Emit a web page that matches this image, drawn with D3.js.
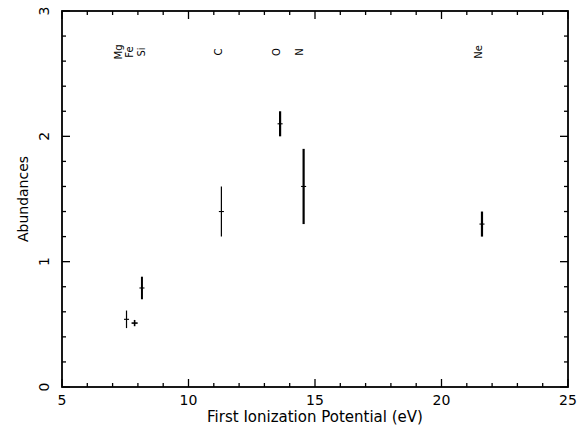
<!DOCTYPE html>
<html><head><meta charset="utf-8">
<script src="https://d3js.org/d3.v7.min.js"></script>
<style>body{margin:0;background:#fff}svg{display:block}text{font-family:"DejaVu Sans",Verdana,sans-serif;fill:#000}</style>
</head><body>
<script>
const elements = ["Mg","Fe","Si","C","O","N","Ne"];
const ionPotential = [7.55, 7.87, 8.16, 11.3, 13.62, 14.55, 21.6];
const abundance = [0.54, 0.51, 0.79, 1.40, 2.10, 1.60, 1.30];
const abundErr = [0.07, 0.025, 0.09, 0.20, 0.10, 0.30, 0.10];
const ipErr = [0.1, 0.12, 0.1, 0.1, 0.1, 0.1, 0.1];
const labelX = [7.25, 7.67, 8.13, 11.17, 13.48, 14.38, 21.47];
const xTicks = [5,10,15,20,25];
const yTicks = [0,1,2,3];
const thickBars = {Mg:1.2, Fe:1.6, Si:2, C:1.2, O:2.2, N:2.2, Ne:2.2};

const W=579,H=433, L=62,R=568,T=11,B=387;
const svg=d3.select("body").append("svg").attr("width",W).attr("height",H);
const x=d3.scaleLinear().domain([5,25]).range([L,R]);
const y=d3.scaleLinear().domain([0,3]).range([B,T]);

const g=svg.append("g");
const xMinor=d3.range(5,25.001,1), yMinor=d3.range(0,3.001,0.2);
const tk=g.append("g").attr("stroke","#000").attr("stroke-width",1.3);
xMinor.forEach(v=>{
  const len = xTicks.includes(v)?8:4;
  tk.append("line").attr("x1",x(v)).attr("x2",x(v)).attr("y1",B).attr("y2",B-len);
  tk.append("line").attr("x1",x(v)).attr("x2",x(v)).attr("y1",T).attr("y2",T+len);
});
yMinor.forEach(v=>{
  const len = yTicks.some(t=>Math.abs(t-v)<1e-6)?8:4;
  tk.append("line").attr("y1",y(v)).attr("y2",y(v)).attr("x1",L).attr("x2",L+len);
  tk.append("line").attr("y1",y(v)).attr("y2",y(v)).attr("x1",R).attr("x2",R-len);
});
g.append("rect").attr("x",L).attr("y",T).attr("width",R-L).attr("height",B-T)
 .attr("fill","none").attr("stroke","#000").attr("stroke-width",1.8);

g.selectAll(".xl").data(xTicks).join("text").attr("x",d=>x(d)).attr("y",B+18)
 .attr("text-anchor","middle").attr("font-size",14).text(d=>d);
g.selectAll(".yl").data(yTicks).join("text")
 .attr("transform",d=>`translate(${L-13},${y(d)}) rotate(-90)`)
 .attr("text-anchor","middle").attr("font-size",14).text(d=>d);

g.append("text").attr("x",(L+R)/2).attr("y",B+35).attr("text-anchor","middle")
 .attr("font-size",15).text("First Ionization Potential (eV)");
g.append("text").attr("transform",`translate(28,${(T+B)/2}) rotate(-90)`)
 .attr("text-anchor","middle").attr("font-size",14).text("Abundances");

const data=elements.map((e,i)=>({e,ip:ionPotential[i],a:abundance[i],ae:abundErr[i],xe:ipErr[i],lx:labelX[i]}));
const pts=g.append("g").attr("stroke","#000");
data.forEach(d=>{
  pts.append("line").attr("x1",x(d.ip)).attr("x2",x(d.ip)).attr("y1",y(d.a-d.ae)).attr("y2",y(d.a+d.ae))
    .attr("stroke-width",thickBars[d.e]);
  pts.append("line").attr("x1",x(d.ip-d.xe)).attr("x2",x(d.ip+d.xe)).attr("y1",y(d.a)).attr("y2",y(d.a))
    .attr("stroke-width",d.e==="Fe"?1.6:1.1);
});
g.selectAll(".el").data(data).join("text")
 .attr("transform",d=>`translate(${x(d.lx)+3.5},52) rotate(-90)`)
 .attr("text-anchor","middle").attr("font-size",10).text(d=>d.e);
</script>
</body></html>
